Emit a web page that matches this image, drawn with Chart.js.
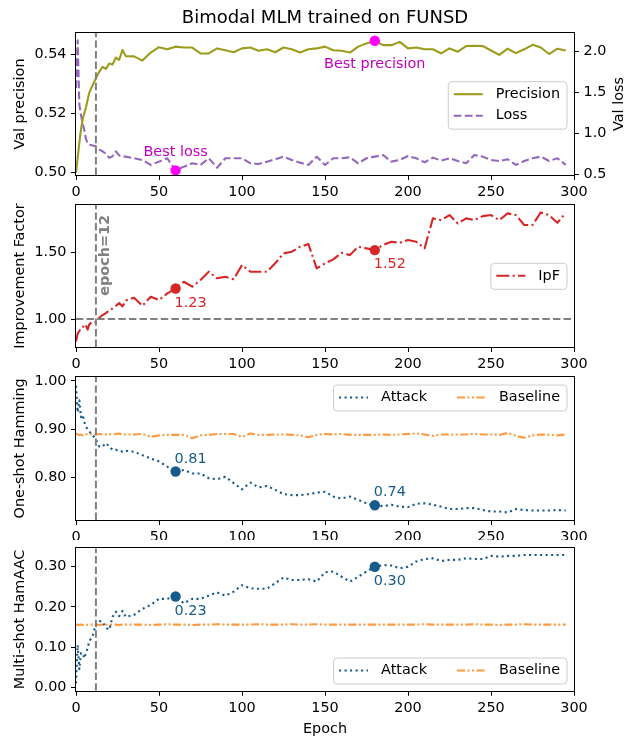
<!DOCTYPE html>
<html>
<head>
<meta charset="utf-8">
<title>Bimodal MLM trained on FUNSD</title>
<script src="https://cdn.jsdelivr.net/npm/chart.js@4.4.0/dist/chart.umd.min.js"></script>
<style>
  html, body { margin: 0; padding: 0; background: #fff; }
  #page { position: relative; width: 624px; height: 736px; overflow: hidden; background: #fff; }
  .panel { position: absolute; left: 0; width: 624px; }
  .panel canvas { display: block; }
</style>
</head>
<body>
<div id="page">
  <div class="panel" style="top:0px;height:197px"><canvas id="c1" width="624" height="197"></canvas></div>
  <div class="panel" style="top:197px;height:171px"><canvas id="c2" width="624" height="171"></canvas></div>
  <div class="panel" style="top:368px;height:172px"><canvas id="c3" width="624" height="172"></canvas></div>
  <div class="panel" style="top:540px;height:196px"><canvas id="c4" width="624" height="196"></canvas></div>
</div>
<script>
// ---- DATA ----
const TITLE = 'Bimodal MLM trained on FUNSD';

const EPOCHS = [0, 1, 2, 3, 4, 5, 6, 7, 8, 10,
  12, 14, 16, 18, 20, 22, 24, 26, 28, 30,
  35, 40, 45, 50, 55, 60, 65, 70, 75, 80,
  85, 90, 95, 100, 105, 110, 115, 120, 125, 130,
  135, 140, 145, 150, 155, 160, 165, 170, 175, 180,
  185, 190, 195, 200, 205, 210, 215, 220, 225, 230,
  235, 240, 245, 250, 255, 260, 265, 270, 275, 280,
  285, 290, 295];

const PRECISION = [0.5000, 0.5050, 0.5100, 0.5145, 0.5180, 0.5200, 0.5220, 0.5245, 0.5270, 0.5295,
  0.5318, 0.5340, 0.5357, 0.5350, 0.5368, 0.5365, 0.5388, 0.5380, 0.5414, 0.5393,
  0.5392, 0.5378, 0.5405, 0.5423, 0.5416, 0.5425, 0.5422, 0.5422, 0.5402, 0.5402,
  0.5419, 0.5413, 0.5406, 0.5419, 0.5422, 0.5411, 0.5416, 0.5406, 0.5422, 0.5416,
  0.5405, 0.5416, 0.5419, 0.5425, 0.5413, 0.5411, 0.5405, 0.5425, 0.5436, 0.5445,
  0.5430, 0.5430, 0.5441, 0.5419, 0.5422, 0.5416, 0.5416, 0.5402, 0.5419, 0.5408,
  0.5427, 0.5428, 0.5427, 0.5412, 0.5397, 0.5418, 0.5403, 0.5416, 0.5431, 0.5422,
  0.5400, 0.5418, 0.5412];

const LOSS = [1.55, 2.13, 1.35, 1.22, 1.12, 1.04, 0.93, 0.88, 0.86, 0.85,
  0.84, 0.80, 0.78, 0.75, 0.70, 0.72, 0.78, 0.73, 0.715, 0.715,
  0.695, 0.674, 0.614, 0.654, 0.695, 0.548, 0.593, 0.634, 0.614, 0.695,
  0.580, 0.695, 0.695, 0.695, 0.634, 0.626, 0.654, 0.682, 0.715, 0.674,
  0.642, 0.614, 0.715, 0.614, 0.695, 0.695, 0.707, 0.634, 0.695, 0.715,
  0.735, 0.654, 0.674, 0.723, 0.695, 0.646, 0.703, 0.666, 0.695, 0.662,
  0.634, 0.735, 0.715, 0.674, 0.662, 0.682, 0.614, 0.662, 0.695, 0.715,
  0.662, 0.695, 0.614];

const IPF = [0.83, 0.89, 0.91, 0.93, 0.935, 0.96, 0.95, 0.92, 0.96, 0.98,
  0.975, 1.01, 1.03, 1.045, 1.065, 1.08, 1.10, 1.12, 1.095, 1.14,
  1.16, 1.10, 1.168, 1.143, 1.193, 1.23, 1.281, 1.244, 1.294, 1.357,
  1.307, 1.319, 1.30, 1.407, 1.357, 1.357, 1.357, 1.42, 1.495, 1.508,
  1.545, 1.565, 1.382, 1.42, 1.45, 1.50, 1.482, 1.545, 1.533, 1.52,
  1.558, 1.583, 1.575, 1.596, 1.583, 1.533, 1.759, 1.746, 1.784, 1.721,
  1.759, 1.746, 1.776, 1.784, 1.746, 1.797, 1.784, 1.709, 1.709, 1.804,
  1.784, 1.726, 1.80];

const HAMMING_ATTACK = [0.990, 0.935, 0.960, 0.925, 0.930, 0.915, 0.905, 0.900, 0.895, 0.888,
  0.878, 0.864, 0.864, 0.871, 0.864, 0.857, 0.857, 0.856, 0.853, 0.855,
  0.853, 0.846, 0.839, 0.833, 0.822, 0.812, 0.815, 0.808, 0.808, 0.798,
  0.796, 0.801, 0.788, 0.775, 0.789, 0.779, 0.782, 0.774, 0.765, 0.763,
  0.763, 0.765, 0.768, 0.770, 0.760, 0.756, 0.760, 0.753, 0.746, 0.742,
  0.740, 0.743, 0.739, 0.738, 0.745, 0.746, 0.743, 0.739, 0.734, 0.734,
  0.736, 0.736, 0.732, 0.729, 0.729, 0.727, 0.734, 0.732, 0.731, 0.731,
  0.731, 0.732, 0.731];

const HAMMING_BASELINE = [0.891, 0.889, 0.888, 0.889, 0.887, 0.889, 0.890, 0.889, 0.890, 0.889,
  0.889, 0.890, 0.889, 0.889, 0.890, 0.889, 0.890, 0.891, 0.889, 0.889,
  0.889, 0.890, 0.884, 0.887, 0.888, 0.888, 0.888, 0.881, 0.887, 0.888,
  0.890, 0.890, 0.890, 0.884, 0.891, 0.888, 0.888, 0.889, 0.889, 0.888,
  0.887, 0.883, 0.888, 0.890, 0.889, 0.890, 0.888, 0.888, 0.888, 0.888,
  0.889, 0.888, 0.889, 0.890, 0.891, 0.889, 0.886, 0.889, 0.889, 0.889,
  0.889, 0.890, 0.889, 0.889, 0.888, 0.892, 0.886, 0.882, 0.887, 0.889,
  0.888, 0.887, 0.889];

const HAMAAC_ATTACK = [0.010, 0.105, 0.045, 0.085, 0.085, 0.072, 0.085, 0.097, 0.114, 0.128,
  0.157, 0.165, 0.163, 0.148, 0.143, 0.175, 0.188, 0.177, 0.190, 0.175,
  0.180, 0.195, 0.205, 0.220, 0.220, 0.226, 0.209, 0.220, 0.220, 0.228,
  0.236, 0.228, 0.238, 0.254, 0.246, 0.245, 0.245, 0.259, 0.273, 0.267,
  0.267, 0.269, 0.263, 0.286, 0.288, 0.275, 0.263, 0.275, 0.288, 0.300,
  0.304, 0.303, 0.296, 0.300, 0.313, 0.319, 0.321, 0.314, 0.317, 0.317,
  0.321, 0.319, 0.319, 0.327, 0.325, 0.327, 0.327, 0.329, 0.329, 0.329,
  0.329, 0.329, 0.329];

const HAMAAC_BASELINE = [0.155, 0.156, 0.155, 0.156, 0.155, 0.156, 0.156, 0.155, 0.156, 0.156,
  0.156, 0.155, 0.156, 0.156, 0.155, 0.156, 0.156, 0.155, 0.156, 0.156,
  0.156, 0.156, 0.155, 0.156, 0.157, 0.156, 0.156, 0.155, 0.156, 0.156,
  0.157, 0.156, 0.156, 0.156, 0.156, 0.157, 0.156, 0.156, 0.156, 0.157,
  0.156, 0.156, 0.157, 0.156, 0.156, 0.156, 0.156, 0.156, 0.156, 0.156,
  0.156, 0.156, 0.156, 0.156, 0.156, 0.157, 0.156, 0.156, 0.156, 0.156,
  0.156, 0.157, 0.156, 0.156, 0.155, 0.156, 0.156, 0.157, 0.156, 0.156,
  0.156, 0.156, 0.156];

const EPOCH_TICKS = [0, 50, 100, 150, 200, 250, 300];
const PREC_TICKS = [0.50, 0.52, 0.54];
const LOSS_TICKS = [0.5, 1.0, 1.5, 2.0];
const IPF_TICKS = [1.00, 1.50];
const HAM_TICKS = [0.80, 0.90, 1.00];
const AAC_TICKS = [0.00, 0.10, 0.20, 0.30];

const EPOCH_MARK = 12;
const IPF_REF = 1.0;
const BEST_LOSS_EPOCH = 60;
const BEST_PREC_EPOCH = 180;
const NOTE_EPOCHS = [60, 180];

// ---- STYLE ----
const FONT = "'DejaVu Sans', sans-serif";
const FS = 14.4;
Chart.defaults.font.family = FONT;
Chart.defaults.font.size = FS;
Chart.defaults.color = '#000';
Chart.defaults.animation = false;

const BLUE = '#175b8c';
const ORANGE = 'rgba(255,127,14,0.8)';
const RED = '#d62728';
const OLIVE = '#9c9c1c';
const PURPLE = '#9467bd';
const MAGENTA = '#ff00ff';
const MAGENTA_TEXT = '#c000c0';
const GRAY = '#808080';

const STYLES = {
  precision: { color: OLIVE, dash: [], width: 2.1 },
  loss: { color: PURPLE, dash: [7.7, 3.3], width: 2.1 },
  ipf: { color: RED, dash: [13, 3.3, 2.1, 3.3], width: 2.1 },
  attack: { color: BLUE, dash: [2.1, 3.4], width: 2.1 },
  baseline: { color: ORANGE, dash: [8, 2.5, 2, 2.5, 2, 2.5], width: 2.1 }
};

const series = ys => EPOCHS.map((e, i) => ({ x: e, y: ys[i] }));
const valueAt = (ys, e) => ys[EPOCHS.indexOf(e)];

function lineSet(label, ys, st, axis) {
  return {
    label, data: series(ys),
    borderColor: st.color, borderDash: st.dash, borderWidth: st.width,
    borderCapStyle: 'butt', borderJoinStyle: 'round',
    pointRadius: 0, pointHoverRadius: 0, tension: 0, fill: false,
    yAxisID: axis || 'y', order: 2
  };
}

function markerSet(points, color, axis) {
  return {
    label: '', data: points, showLine: false,
    pointRadius: 5.2, pointHoverRadius: 5.2, pointBorderWidth: 0,
    pointBackgroundColor: color, borderColor: color,
    yAxisID: axis || 'y', order: 1
  };
}

function xScale(height, title) {
  return {
    type: 'linear', min: 0, max: 300,
    afterBuildTicks: s => { s.ticks = EPOCH_TICKS.map(v => ({ value: v })); },
    afterFit: s => { s.height = height; s.paddingLeft = 0; s.paddingRight = 0; },
    grid: { drawOnChartArea: false, tickLength: 5, color: '#000', lineWidth: 1 },
    border: { display: false },
    ticks: { padding: 3.5, autoSkip: false, maxRotation: 0, callback: v => String(v) },
    title: title ? { display: true, text: title, padding: { top: 0, bottom: -2 } } : { display: false }
  };
}

function yScale(min, max, ticks, digits, title, position) {
  const right = position === 'right';
  return {
    type: 'linear', position: right ? 'right' : 'left', min, max,
    afterBuildTicks: s => { s.ticks = ticks.map(v => ({ value: v })); },
    afterFit: s => { s.width = right ? 50 : 76; s.paddingTop = 0; s.paddingBottom = 0; },
    grid: { drawOnChartArea: false, tickLength: 5, color: '#000', lineWidth: 1 },
    border: { display: false },
    ticks: { padding: 4.5, autoSkip: false, callback: v => v.toFixed(digits) },
    title: title ? { display: true, text: title, padding: { top: 12, bottom: 0 } } : { display: false }
  };
}

function roundRect(ctx, x, y, w, h, r) {
  ctx.beginPath();
  ctx.moveTo(x + r, y);
  ctx.lineTo(x + w - r, y); ctx.arcTo(x + w, y, x + w, y + r, r);
  ctx.lineTo(x + w, y + h - r); ctx.arcTo(x + w, y + h, x + w - r, y + h, r);
  ctx.lineTo(x + r, y + h); ctx.arcTo(x, y + h, x, y + h - r, r);
  ctx.lineTo(x, y + r); ctx.arcTo(x, y, x + r, y, r);
  ctx.closePath();
}

// reference lines, frame, notes and in-axes legend
const decor = {
  id: 'decor',
  afterDatasetsDraw(chart, args, o) {
    const { ctx, chartArea: a, scales } = chart;
    ctx.save();
    ctx.beginPath(); ctx.rect(a.left, a.top, a.width, a.height); ctx.clip();
    ctx.strokeStyle = GRAY; ctx.lineWidth = 2; ctx.setLineDash([7.4, 3.2]);
    const vx = scales.x.getPixelForValue(EPOCH_MARK);
    ctx.beginPath(); ctx.moveTo(vx, a.bottom); ctx.lineTo(vx, a.top); ctx.stroke();
    if (o.hline !== undefined) {
      const hy = scales.y.getPixelForValue(o.hline);
      ctx.beginPath(); ctx.moveTo(a.left, hy); ctx.lineTo(a.right, hy); ctx.stroke();
    }
    ctx.restore();
  },
  afterDraw(chart, args, o) {
    const { ctx, chartArea: a, scales } = chart;
    // frame (all four spines)
    ctx.save();
    ctx.strokeStyle = '#000'; ctx.lineWidth = 1; ctx.setLineDash([]);
    const l = Math.round(a.left), t = Math.round(a.top), r = Math.round(a.right), b = Math.round(a.bottom);
    ctx.strokeRect(l - 0.5, t - 0.5, r - l + 1, b - t + 1);
    ctx.restore();

    // text notes
    (o.notes || []).forEach(n => {
      const px = scales.x.getPixelForValue(n.x) + (n.dx || 0);
      const py = (n.y === 'top' ? a.top : scales[n.axis || 'y'].getPixelForValue(n.y)) + (n.dy || 0);
      ctx.save();
      ctx.font = (n.bold ? 'bold ' : '') + FS + 'px ' + FONT;
      ctx.fillStyle = n.color;
      ctx.textAlign = n.align || 'left';
      ctx.textBaseline = 'middle';
      ctx.translate(px, py);
      if (n.rotate) ctx.rotate(-Math.PI / 2);
      ctx.fillText(n.text, 0, 0);
      ctx.restore();
    });

    // right-hand axis label, read bottom to top
    if (o.sideTitle) {
      ctx.save();
      ctx.font = FS + 'px ' + FONT; ctx.fillStyle = '#000';
      ctx.textAlign = 'center'; ctx.textBaseline = 'middle';
      ctx.translate(chart.width - 4.5, (a.top + a.bottom) / 2);
      ctx.rotate(-Math.PI / 2);
      ctx.fillText(o.sideTitle, 0, 0);
      ctx.restore();
    }

    // legend inside the axes
    if (o.legend) {
      const L = o.legend, cols = L.cols || 1;
      const rows = Math.ceil(L.items.length / cols);
      ctx.save();
      ctx.font = FS + 'px ' + FONT;
      const cells = L.items.map(it => 29 + 13 + ctx.measureText(it.label).width);
      const colW = [];
      for (let c = 0; c < cols; c++) colW[c] = Math.max(...cells.filter((_, i) => i % cols === c));
      const w = 5.5 + colW.reduce((s, v) => s + v, 0) + 30 * (cols - 1) + 7;
      const h = 10 + rows * 16 + (rows - 1) * 5.5;
      const x0 = a.right - 7 - w;
      const y0 = L.top !== undefined ? a.top + L.top : a.bottom - L.bottom - h;
      roundRect(ctx, x0, y0, w, h, 3.5);
      ctx.fillStyle = 'rgba(255,255,255,0.8)'; ctx.fill();
      ctx.strokeStyle = '#cccccc'; ctx.lineWidth = 1; ctx.stroke();
      L.items.forEach((it, i) => {
        const c = i % cols, rr = Math.floor(i / cols);
        let x = x0 + 5.5 + 30 * c;
        for (let k = 0; k < c; k++) x += colW[k];
        const cy = y0 + 12.5 + rr * 21.5;
        ctx.strokeStyle = it.style.color; ctx.lineWidth = it.style.width;
        ctx.setLineDash(it.style.dash); ctx.lineCap = 'butt';
        ctx.beginPath(); ctx.moveTo(x, cy); ctx.lineTo(x + 29, cy); ctx.stroke();
        ctx.setLineDash([]);
        ctx.fillStyle = '#000'; ctx.textAlign = 'left'; ctx.textBaseline = 'middle';
        ctx.fillText(it.label, x + 42, cy);
      });
      ctx.restore();
    }
  }
};

function basePlugins(extra) {
  return Object.assign({ legend: { display: false }, tooltip: { enabled: false } }, extra);
}

// ---- PANEL 1: precision / loss ----
new Chart(document.getElementById('c1'), {
  type: 'line',
  data: {
    datasets: [
      markerSet([{ x: BEST_PREC_EPOCH, y: valueAt(PRECISION, BEST_PREC_EPOCH) }], MAGENTA, 'y'),
      markerSet([{ x: BEST_LOSS_EPOCH, y: valueAt(LOSS, BEST_LOSS_EPOCH) }], MAGENTA, 'y2'),
      lineSet('Precision', PRECISION, STYLES.precision, 'y'),
      lineSet('Loss', LOSS, STYLES.loss, 'y2')
    ]
  },
  options: {
    responsive: false,
    layout: { padding: 0 },
    scales: {
      x: xScale(22),
      y: yScale(0.4992, 0.5471, PREC_TICKS, 2, 'Val precision'),
      y2: yScale(0.4915, 2.219, LOSS_TICKS, 1, null, 'right')
    },
    plugins: basePlugins({
      title: { display: true, text: TITLE, fullSize: false, color: '#000',
        font: { size: 18, weight: 'normal' }, padding: { top: 8, bottom: 3.4 } },
      decor: {
        sideTitle: 'Val loss',
        notes: [
          { text: 'Best precision', x: BEST_PREC_EPOCH, y: valueAt(PRECISION, BEST_PREC_EPOCH), dy: 24, align: 'center', color: MAGENTA_TEXT },
          { text: 'Best loss', x: BEST_LOSS_EPOCH, y: valueAt(LOSS, BEST_LOSS_EPOCH), axis: 'y2', dy: -18.4, align: 'center', color: MAGENTA_TEXT }
        ],
        legend: { top: 48.7, items: [
          { label: 'Precision', style: STYLES.precision },
          { label: 'Loss', style: STYLES.loss }
        ] }
      }
    })
  },
  plugins: [decor]
});

// ---- PANEL 2: improvement factor ----
new Chart(document.getElementById('c2'), {
  type: 'line',
  data: {
    datasets: [
      markerSet(NOTE_EPOCHS.map(e => ({ x: e, y: valueAt(IPF, e) })), RED),
      lineSet('IpF', IPF, STYLES.ipf)
    ]
  },
  options: {
    responsive: false,
    layout: { padding: { top: 8, right: 50, left: 0, bottom: 0 } },
    scales: {
      x: xScale(21),
      y: yScale(0.789, 1.86, IPF_TICKS, 2, 'Improvement Factor')
    },
    plugins: basePlugins({
      decor: {
        hline: IPF_REF,
        notes: NOTE_EPOCHS.map(e => ({ text: valueAt(IPF, e).toFixed(2), x: e, y: valueAt(IPF, e), dx: -1, dy: 14.5, color: RED }))
          .concat([{ text: 'epoch=' + EPOCH_MARK, x: EPOCH_MARK, y: 'top', dx: 9.3, dy: 10, align: 'right', rotate: true, bold: true, color: GRAY }]),
        legend: { top: 58.3, items: [{ label: 'IpF', style: STYLES.ipf }] }
      }
    })
  },
  plugins: [decor]
});

// ---- PANEL 3: one-shot Hamming ----
new Chart(document.getElementById('c3'), {
  type: 'line',
  data: {
    datasets: [
      markerSet(NOTE_EPOCHS.map(e => ({ x: e, y: valueAt(HAMMING_ATTACK, e) })), BLUE),
      lineSet('Attack', HAMMING_ATTACK, STYLES.attack),
      lineSet('Baseline', HAMMING_BASELINE, STYLES.baseline)
    ]
  },
  options: {
    responsive: false,
    layout: { padding: { top: 8.7, right: 50, left: 0, bottom: 0 } },
    scales: {
      x: xScale(20),
      y: yScale(0.7113, 1.0089, HAM_TICKS, 2, 'One-shot Hamming')
    },
    plugins: basePlugins({
      decor: {
        notes: NOTE_EPOCHS.map(e => ({ text: valueAt(HAMMING_ATTACK, e).toFixed(2), x: e, y: valueAt(HAMMING_ATTACK, e), dx: -1, dy: -12.7, color: BLUE })),
        legend: { top: 8.3, cols: 2, items: [
          { label: 'Attack', style: STYLES.attack },
          { label: 'Baseline', style: STYLES.baseline }
        ] }
      }
    })
  },
  plugins: [decor]
});

// ---- PANEL 4: multi-shot HamAAC ----
new Chart(document.getElementById('c4'), {
  type: 'line',
  data: {
    datasets: [
      markerSet(NOTE_EPOCHS.map(e => ({ x: e, y: valueAt(HAMAAC_ATTACK, e) })), BLUE),
      lineSet('Attack', HAMAAC_ATTACK, STYLES.attack),
      lineSet('Baseline', HAMAAC_BASELINE, STYLES.baseline)
    ]
  },
  options: {
    responsive: false,
    layout: { padding: { top: 8.3, right: 50, left: 0, bottom: 0 } },
    scales: {
      x: xScale(45.3, 'Epoch'),
      y: yScale(-0.0085, 0.3458, AAC_TICKS, 2, 'Multi-shot HamAAC')
    },
    plugins: basePlugins({
      decor: {
        notes: NOTE_EPOCHS.map(e => ({ text: valueAt(HAMAAC_ATTACK, e).toFixed(2), x: e, y: valueAt(HAMAAC_ATTACK, e), dx: -1, dy: 14.5, color: BLUE })),
        legend: { bottom: 6.7, cols: 2, items: [
          { label: 'Attack', style: STYLES.attack },
          { label: 'Baseline', style: STYLES.baseline }
        ] }
      }
    })
  },
  plugins: [decor]
});
</script>
</body>
</html>
